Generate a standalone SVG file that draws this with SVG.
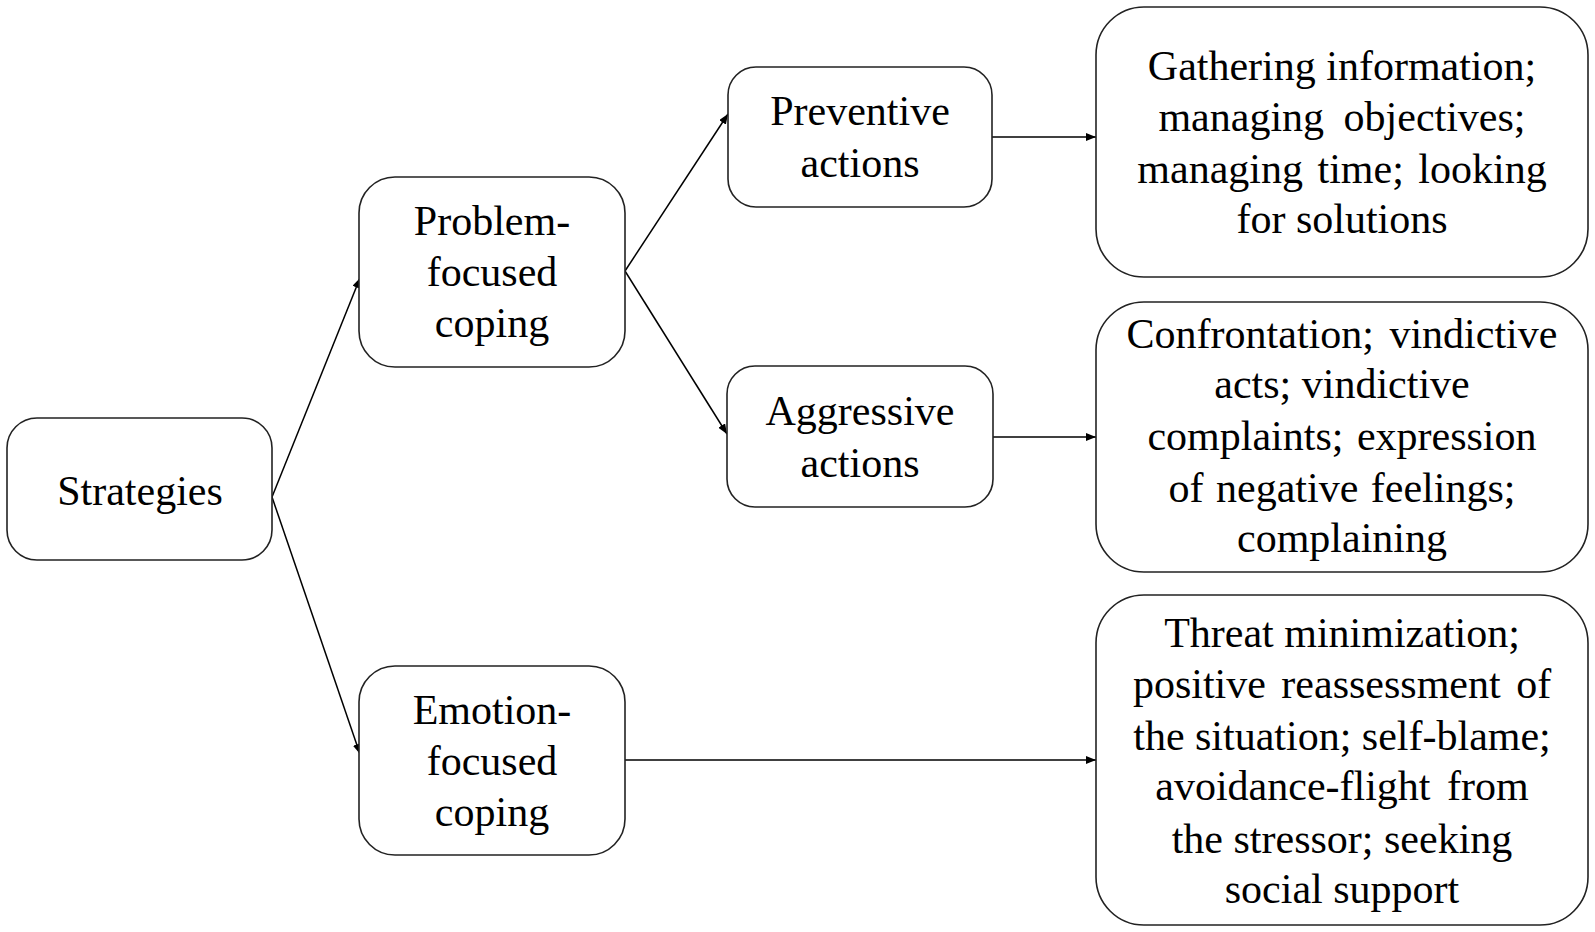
<svg xmlns="http://www.w3.org/2000/svg" width="1595" height="932" viewBox="0 0 1595 932">
<style>
.box{fill:#fff;stroke:#222;stroke-width:1.6}
.t{font-family:Liberation Serif, serif;font-size:42px;fill:#000;text-anchor:middle}
.c{stroke:#000;stroke-width:1.5;fill:none;marker-end:url(#ah)}
</style>
<defs>
<marker id="ah" viewBox="0 0 10 8" refX="10" refY="4" markerWidth="10" markerHeight="8" markerUnits="userSpaceOnUse" orient="auto">
<path d="M0,0 L10,4 L0,8 z" fill="#000"/>
</marker>
</defs>
<rect width="1595" height="932" fill="#fff"/>
<g id="connectors">
<line class="c" x1="272" y1="497" x2="360" y2="278"/>
<line class="c" x1="272" y1="497" x2="360" y2="754"/>
<line class="c" x1="625" y1="271" x2="728" y2="114"/>
<line class="c" x1="625" y1="271" x2="727" y2="434"/>
<line class="c" x1="992" y1="137" x2="1096" y2="137"/>
<line class="c" x1="993" y1="437" x2="1096" y2="437"/>
<line class="c" x1="625" y1="760" x2="1096" y2="760"/>
</g>
<g id="strategies">
<rect class="box" x="7" y="418" width="265" height="142" rx="30"/>
<text class="t" x="140" y="505">Strategies</text>
</g>
<g id="problem">
<rect class="box" x="359" y="177" width="266" height="190" rx="36"/>
<text class="t" x="492" y="235">Problem-</text>
<text class="t" x="492" y="286">focused</text>
<text class="t" x="492" y="337">coping</text>
</g>
<g id="emotion">
<rect class="box" x="359" y="666" width="266" height="189" rx="36"/>
<text class="t" x="492" y="724">Emotion-</text>
<text class="t" x="492" y="775">focused</text>
<text class="t" x="492" y="826">coping</text>
</g>
<g id="preventive">
<rect class="box" x="728" y="67" width="264" height="140" rx="28"/>
<text class="t" x="860" y="125">Preventive</text>
<text class="t" x="860" y="177">actions</text>
</g>
<g id="aggressive">
<rect class="box" x="727" y="366" width="266" height="141" rx="28"/>
<text class="t" x="860" y="425">Aggressive</text>
<text class="t" x="860" y="477">actions</text>
</g>
<g id="gathering">
<rect class="box" x="1096" y="7" width="492" height="270" rx="48"/>
<text class="t" x="1342" y="80">Gathering information;</text>
<text class="t" x="1342" y="131" word-spacing="9">managing objectives;</text>
<text class="t" x="1342" y="183" word-spacing="4">managing time; looking</text>
<text class="t" x="1342" y="233">for solutions</text>
</g>
<g id="confrontation">
<rect class="box" x="1096" y="302" width="492" height="270" rx="48"/>
<text class="t" x="1342" y="348" word-spacing="5">Confrontation; vindictive</text>
<text class="t" x="1342" y="398">acts; vindictive</text>
<text class="t" x="1342" y="450" word-spacing="3">complaints; expression</text>
<text class="t" x="1342" y="502" word-spacing="2">of negative feelings;</text>
<text class="t" x="1342" y="552">complaining</text>
</g>
<g id="threat">
<rect class="box" x="1096" y="595" width="492" height="330" rx="48"/>
<text class="t" x="1342" y="647">Threat minimization;</text>
<text class="t" x="1342" y="698" word-spacing="5">positive reassessment of</text>
<text class="t" x="1342" y="750">the situation; self-blame;</text>
<text class="t" x="1342" y="800" word-spacing="6">avoidance-flight from</text>
<text class="t" x="1342" y="853">the stressor; seeking</text>
<text class="t" x="1342" y="903">social support</text>
</g>
</svg>
